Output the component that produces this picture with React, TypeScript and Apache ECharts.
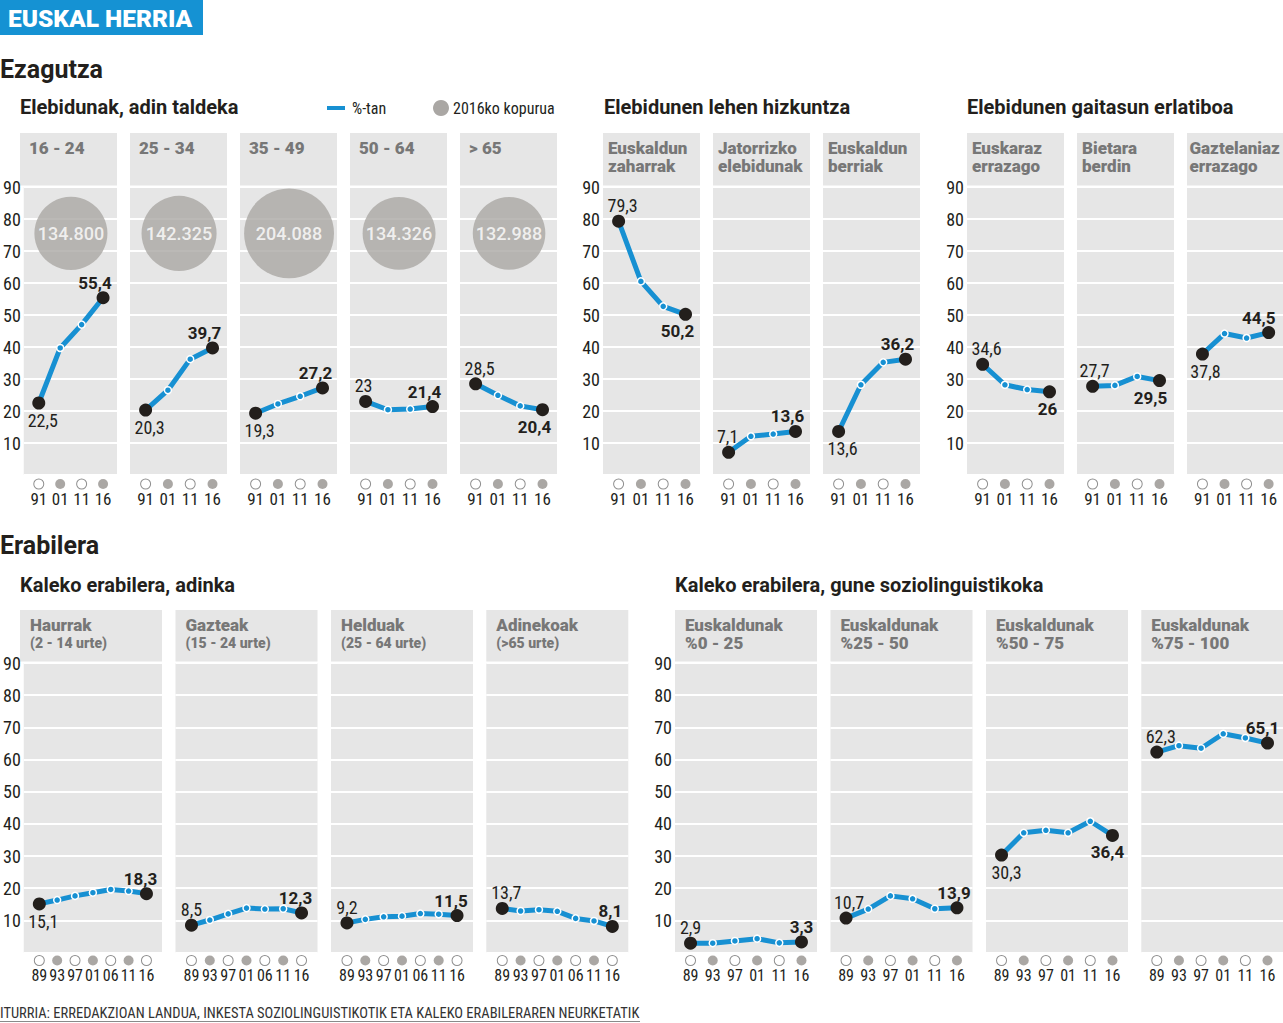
import React, { useEffect, useRef } from 'react';
import * as echarts from 'echarts';

// ---------- DATA ----------
const yearsKnow = ['91', '01', '11', '16'];
const yearsAge = ['89', '93', '97', '01', '06', '11', '16'];
const yearsZone = ['89', '93', '97', '01', '11', '16'];
const knowFilled = [false, true, false, true];
const ageFilled = [false, true, false, true, false, true, false];
const zoneFilled = [false, true, false, true, false, true];

const ageGroups = ['16 - 24', '25 - 34', '35 - 49', '50 - 64', '> 65'];
const bilingualByAge = [
  [22.5, 39.7, 47.0, 55.4],
  [20.3, 26.5, 36.2, 39.7],
  [19.3, 22.2, 24.6, 27.2],
  [23, 20.4, 20.6, 21.4],
  [28.5, 24.9, 21.6, 20.4],
];
const population2016 = [134800, 142325, 204088, 134326, 132988];

const firstLangGroups = ['Euskaldun\nzaharrak', 'Jatorrizko\nelebidunak', 'Euskaldun\nberriak'];
const firstLangValues = [
  [79.3, 60.5, 52.7, 50.2],
  [7.1, 12.1, 12.8, 13.6],
  [13.6, 28.2, 35.2, 36.2],
];

const abilityGroups = ['Euskaraz\nerrazago', 'Bietara\nberdin', 'Gaztelaniaz\nerrazago'];
const abilityValues = [
  [34.6, 28.2, 26.7, 26],
  [27.7, 28.0, 30.8, 29.5],
  [37.8, 44.2, 42.8, 44.5],
];

const streetAgeGroups = ['Haurrak', 'Gazteak', 'Helduak', 'Adinekoak'];
const streetAgeSub = ['(2 - 14 urte)', '(15 - 24 urte)', '(25 - 64 urte)', '(>65 urte)'];
const streetAgeValues = [
  [15.1, 16.3, 17.6, 18.6, 19.6, 19.1, 18.3],
  [8.5, 10.1, 12.0, 13.8, 13.5, 13.6, 12.3],
  [9.2, 10.3, 11.1, 11.3, 12.1, 11.9, 11.5],
  [13.7, 12.9, 13.3, 12.8, 10.6, 9.8, 8.1],
];

const zoneGroups = ['Euskaldunak\n%0 - 25', 'Euskaldunak\n%25 - 50', 'Euskaldunak\n%50 - 75', 'Euskaldunak\n%75 - 100'];
const zoneValues = [
  [2.9, 2.9, 3.6, 4.3, 3.0, 3.3],
  [10.7, 13.5, 17.6, 16.7, 13.6, 13.9],
  [30.3, 37.2, 38.0, 37.2, 40.8, 36.4],
  [62.3, 64.3, 63.5, 68.0, 66.7, 65.1],
];

// ---------- STYLE / LAYOUT ----------
const BLUE = '#1790d2';
const DARK = '#231f1c';
const PANEL = '#e6e6e6';
const HEAD = '#777777';
const BUBBLE = '#aaa7a4';
const NARROW = '"Liberation Sans Narrow", "Arial Narrow", "Roboto Condensed", sans-serif';
const BOLDF = 'Roboto, "Liberation Sans", sans-serif';

// label placement per panel: [startPos, startDx, endPos, endDx]
type Place = [string, number, string, number];
const placeAge: Place[] = [
  ['bottom', 4, 'top', -8], ['bottom', 4, 'top', -8], ['bottom', 4, 'top', -7],
  ['top', -2, 'top', -8], ['top', 4, 'bottom', -8],
];
const placeFirst: Place[] = [['top', 4, 'bottom', -8], ['top', -1, 'top', -8], ['bottom', 4, 'top', -8]];
const placeAbility: Place[] = [['top', 4, 'bottom', -2], ['top', 2, 'bottom', -9], ['bottom', 3, 'top', -10]];
const placeStreet: Place[] = [['bottom', 4, 'top', -6], ['top', 0, 'top', -6], ['top', 0, 'top', -6], ['top', 4, 'top', -2]];
const placeZone: Place[] = [['top', 0, 'top', 0], ['top', 3, 'top', -3], ['bottom', 5, 'bottom', -5], ['top', 4, 'top', -5]];

const ROW_TOP = { panelTop: 133, gridTop: 187, gridH: 288, headTop: 139, margin: 3, yearSize: 17 };
const ROW_BOT = { panelTop: 610, gridTop: 663, gridH: 289.5, headTop: 616, margin: 2, yearSize: 16 };

interface Panel {
  left: number; width: number; row: typeof ROW_TOP; head: string; sub?: string; headDx: number;
  cats: string[]; filled: boolean[]; values: number[]; xMin: number; xMax: number; showY: boolean;
  place: Place; pop?: number;
}

const panels: Panel[] = [];
const topA = [20, 130, 240, 350, 460];
ageGroups.forEach((g, i) => panels.push({
  left: topA[i], width: 97, row: ROW_TOP, head: g, headDx: 9, cats: yearsKnow, filled: knowFilled,
  values: bilingualByAge[i], xMin: -0.7, xMax: 3.65, showY: i === 0, place: placeAge[i], pop: population2016[i],
}));
const topB = [603, 713, 823];
firstLangGroups.forEach((g, i) => panels.push({
  left: topB[i], width: 97, row: ROW_TOP, head: g, headDx: 5, cats: yearsKnow, filled: knowFilled,
  values: firstLangValues[i], xMin: -0.7, xMax: 3.65, showY: i === 0, place: placeFirst[i],
}));
const topC = [967, 1077, 1187];
abilityGroups.forEach((g, i) => panels.push({
  left: topC[i], width: 97, row: ROW_TOP, head: g, headDx: i === 2 ? 2.5 : 5, cats: yearsKnow, filled: knowFilled,
  values: abilityValues[i], xMin: -0.7, xMax: 3.65, showY: i === 0, place: placeAbility[i],
}));
const botA = [20, 175.5, 331, 486.3];
streetAgeGroups.forEach((g, i) => panels.push({
  left: botA[i], width: 142, row: ROW_BOT, head: g, sub: streetAgeSub[i], headDx: 10, cats: yearsAge, filled: ageFilled,
  values: streetAgeValues[i], xMin: -0.87, xMax: 6.87, showY: i === 0, place: placeStreet[i],
}));
const botB = [675, 830.5, 986, 1141.3];
zoneGroups.forEach((g, i) => panels.push({
  left: botB[i], width: 142, row: ROW_BOT, head: g, headDx: 10, cats: yearsZone, filled: zoneFilled,
  values: zoneValues[i], xMin: -0.7, xMax: 5.7, showY: i === 0, place: placeZone[i],
}));

const fmtNum = (v: number) => String(v).replace('.', ',');
const fmtPop = (v: number) => String(v).replace(/\B(?=(\d{3})+(?!\d))/g, '.');

function buildOption() {
  const grid: any[] = [];
  const xAxis: any[] = [];
  const yAxis: any[] = [];
  const series: any[] = [];
  const graphic: any[] = [];

  panels.forEach((p, i) => {
    grid.push({
      left: p.left, top: p.row.gridTop, width: p.width, height: p.row.gridH,
      show: true, backgroundColor: PANEL, borderWidth: 0, containLabel: false,
    });
    xAxis.push({
      gridIndex: i, type: 'value', min: p.xMin, max: p.xMax,
      axisLine: { show: false }, axisTick: { show: false }, splitLine: { show: false },
      axisLabel: {
        customValues: p.cats.map((_, k) => k),
        margin: p.row.margin,
        showMinLabel: true, showMaxLabel: true, hideOverlap: false,
        formatter: (v: number) => {
          const k = Math.round(v);
          if (k < 0 || k >= p.cats.length) return '';
          return `{${p.filled[k] ? 'f' : 'o'}| }\n{t|${p.cats[k]}}`;
        },
        rich: {
          o: { width: 9, height: 9, lineHeight: 12, borderRadius: 5, borderColor: '#8f8f8f', borderWidth: 1, backgroundColor: '#fff' },
          f: { width: 10, height: 10, lineHeight: 12, borderRadius: 5, backgroundColor: BUBBLE },
          t: { fontSize: p.row.yearSize, lineHeight: 18, fontFamily: NARROW, color: DARK },
        },
      },
    });
    yAxis.push({
      gridIndex: i, type: 'value', min: 0, max: 90, interval: 10,
      axisLine: { show: false }, axisTick: { show: false },
      splitLine: { show: true, lineStyle: { color: '#ffffff', width: 2 } },
      axisLabel: {
        show: p.showY, margin: 3, fontSize: 18, fontFamily: NARROW, color: DARK,
        formatter: (v: number) => (v === 0 ? '' : String(v)),
      },
    });

    const n = p.values.length;
    const data = p.values.map((v, k) => {
      if (k === 0 || k === n - 1) {
        const isEnd = k === n - 1;
        const pos = isEnd ? p.place[2] : p.place[0];
        const dx = isEnd ? p.place[3] : p.place[1];
        return {
          value: [k, v], symbolSize: 13,
          itemStyle: { color: DARK, borderWidth: 0 },
          label: {
            show: true, position: pos, offset: [dx, 0], distance: pos === 'top' ? 0 : 2,
            formatter: fmtNum(v), color: DARK,
            fontSize: isEnd ? 17 : 18, fontWeight: isEnd ? 'bold' : 'normal',
            fontFamily: isEnd ? BOLDF : NARROW,
          },
        };
      }
      return { value: [k, v] };
    });
    series.push({
      type: 'line', xAxisIndex: i, yAxisIndex: i, data, symbol: 'circle', symbolSize: 7,
      showAllSymbol: true, silent: true, z: 4,
      lineStyle: { width: 5, color: BLUE },
      itemStyle: { color: BLUE, borderColor: '#fff', borderWidth: 1.5 },
      label: { show: false },
      emphasis: { disabled: true },
    });

    if (p.pop !== undefined) {
      series.push({
        type: 'scatter', xAxisIndex: i, yAxisIndex: i, silent: true, z: 3,
        data: [[1.5, 75.5, p.pop]],
        symbolSize: (d: number[]) => 0.199 * Math.sqrt(d[2]),
        itemStyle: { color: BUBBLE },
        label: {
          show: true, position: 'inside', color: '#ffffff', fontSize: 18, fontFamily: BOLDF, fontWeight: 500,
          formatter: (pp: any) => fmtPop(pp.value[2]),
        },
        emphasis: { disabled: true },
      });
    }

    // header band
    graphic.push({
      type: 'rect', shape: { x: p.left, y: p.row.panelTop, width: p.width, height: p.row.gridTop - p.row.panelTop - 1.5 },
      style: { fill: PANEL }, silent: true,
    });
    graphic.push({
      type: 'text', x: p.left + p.headDx, y: p.row.headTop,
      style: { text: p.head, fill: HEAD, font: `900 17px ${BOLDF}`, lineHeight: 18, verticalAlign: 'top', textVerticalAlign: 'top', align: 'left' },
      silent: true,
    });
    if (p.sub) {
      graphic.push({
        type: 'text', x: p.left + p.headDx, y: p.row.headTop + 18,
        style: { text: p.sub, fill: HEAD, font: `900 14px ${BOLDF}`, lineHeight: 18, verticalAlign: 'top', textVerticalAlign: 'top', align: 'left' },
        silent: true,
      });
    }
  });

  const txt = (text: string, x: number, y: number, font: string, fill = DARK) => ({
    type: 'text', x, y, silent: true,
    style: { text, fill, font, verticalAlign: 'middle', textVerticalAlign: 'middle', align: 'left' },
  });

  graphic.push({ type: 'rect', shape: { x: 0, y: 0, width: 203, height: 35 }, style: { fill: '#1592d3' }, silent: true });
  graphic.push(txt('EUSKAL HERRIA', 8, 18, `900 24.5px ${BOLDF}`, '#ffffff'));
  graphic.push(txt('Ezagutza', 0, 69, `bold 25px ${BOLDF}`));
  graphic.push(txt('Erabilera', 0, 545, `bold 25px ${BOLDF}`));
  graphic.push(txt('Elebidunak, adin taldeka', 20, 107, `bold 20px ${BOLDF}`));
  graphic.push(txt('Elebidunen lehen hizkuntza', 604, 107, `bold 20px ${BOLDF}`));
  graphic.push(txt('Elebidunen gaitasun erlatiboa', 967, 107, `bold 20px ${BOLDF}`));
  graphic.push(txt('Kaleko erabilera, adinka', 20, 585, `bold 20px ${BOLDF}`));
  graphic.push(txt('Kaleko erabilera, gune soziolinguistikoka', 675, 585, `bold 20px ${BOLDF}`));
  // legend
  graphic.push({ type: 'rect', shape: { x: 327, y: 106, width: 18, height: 4 }, style: { fill: BLUE }, silent: true });
  graphic.push(txt('%-tan', 352, 108, `16px ${NARROW}`));
  graphic.push({ type: 'circle', shape: { cx: 441, cy: 108, r: 8 }, style: { fill: BUBBLE }, silent: true });
  graphic.push(txt('2016ko kopurua', 453, 108, `16px ${NARROW}`));
  // footer
  graphic.push(txt('ITURRIA: ERREDAKZIOAN LANDUA, INKESTA SOZIOLINGUISTIKOTIK ETA KALEKO ERABILERAREN NEURKETATIK', 0, 1013, `14.5px ${NARROW}`, '#333'));
  graphic.push({ type: 'line', shape: { x1: 0, y1: 1021.5, x2: 640, y2: 1021.5 }, style: { stroke: '#8a8a8a', lineWidth: 1 }, silent: true });

  return {
    animation: false,
    backgroundColor: '#ffffff',
    grid, xAxis, yAxis, series, graphic,
  };
}

export default function App() {
  const ref = useRef<HTMLDivElement>(null);
  useEffect(() => {
    if (!ref.current) return;
    const chart = echarts.init(ref.current, undefined, { renderer: 'svg' });
    chart.setOption(buildOption() as any);
    return () => chart.dispose();
  }, []);
  return <div ref={ref} style={{ position: 'fixed', left: 0, top: 0, width: 1283, height: 1023 }} />;
}
